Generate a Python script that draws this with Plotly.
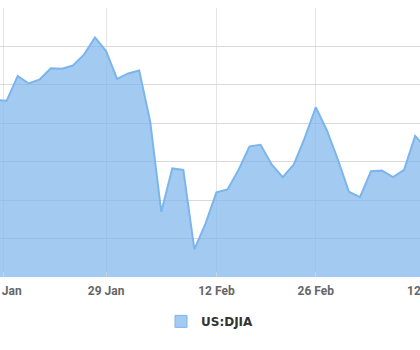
import plotly.graph_objects as go

# Trading days (index 0 = 16 Jan 2018) and DJIA closing values
dates = ["2018-01-12", "2018-01-16", "2018-01-17", "2018-01-18", "2018-01-19",
         "2018-01-22", "2018-01-23", "2018-01-24", "2018-01-25", "2018-01-26",
         "2018-01-29", "2018-01-30", "2018-01-31", "2018-02-01", "2018-02-02",
         "2018-02-05", "2018-02-06", "2018-02-07", "2018-02-08", "2018-02-09",
         "2018-02-12", "2018-02-13", "2018-02-14", "2018-02-15", "2018-02-16",
         "2018-02-20", "2018-02-21", "2018-02-22", "2018-02-23", "2018-02-26",
         "2018-02-27", "2018-02-28", "2018-03-01", "2018-03-02", "2018-03-05",
         "2018-03-06", "2018-03-07", "2018-03-08", "2018-03-09", "2018-03-12"]
djia = [25803, 25793, 26116, 26018, 26072,
        26215, 26211, 26252, 26393, 26617,
        26439, 26077, 26149, 26187, 25521,
        24346, 24913, 24893, 23860, 24191,
        24601, 24640, 24893, 25200, 25219,
        24965, 24798, 24962, 25310, 25709,
        25410, 25029, 24609, 24538, 24875,
        24884, 24801, 24895, 25336, 25179]
day_index = list(range(-1, len(dates) - 1))

tick_pos = [-0.3, 9, 19, 28, 38]
tick_text = ["15 Jan", "29 Jan", "12 Feb", "26 Feb", "12 Mar"]

series_name = "US:DJIA"
line_color = "#7cb5ec"
fill_color = "rgba(124,181,236,0.7)"
x_range = [-0.607, 37.44]
tick_font = dict(family="Roboto", size=12, color="#666666", weight="bold")

fig = go.Figure()
fig.add_trace(go.Scatter(
    x=day_index, y=djia, customdata=dates, mode="lines",
    line=dict(color=line_color, width=2),
    fill="tozeroy", fillcolor=fill_color,
    showlegend=False, name=series_name,
))
fig.add_trace(go.Bar(
    x=[None], y=[None], name=series_name,
    marker=dict(color=fill_color, line=dict(color=line_color, width=1)),
    showlegend=True,
))

# tick labels that fall just past the right edge of the visible range
for tv, tt in zip(tick_pos, tick_text):
    if tv > x_range[1]:
        fig.add_annotation(
            x=(tv - x_range[0]) / (x_range[1] - x_range[0]), xref="paper",
            xanchor="center",
            y=0, yref="paper", yanchor="top", yshift=-5,
            text=tt, showarrow=False, font=tick_font,
        )

fig.update_layout(
    width=420, height=350,
    margin=dict(l=0, r=0, t=8, b=73),
    paper_bgcolor="white", plot_bgcolor="white",
    font=dict(family="Roboto", size=12, color="#666666"),
    showlegend=True,
    legend=dict(orientation="h", x=0.5, xanchor="center", y=-0.165, yanchor="middle",
                font=dict(family="DejaVu Sans", size=12, color="#333333", weight="bold"),
                itemwidth=30),
    xaxis=dict(
        range=x_range, tickmode="array", tickvals=tick_pos, ticktext=tick_text,
        showgrid=True, gridcolor="#e6e6e6", gridwidth=1,
        ticks="inside", ticklen=5, tickcolor="#c8d2e0",
        ticklabeloverflow="allow", ticklabelstandoff=5,
        zeroline=False, showline=False,
        automargin=False, tickfont=tick_font,
    ),
    yaxis=dict(
        range=[23500, 27000], tick0=23500, dtick=500,
        showgrid=True, gridcolor="#d9d9d9", gridwidth=1,
        showticklabels=False, zeroline=False, showline=False, automargin=False,
    ),
)

fig.write_html("out.html")
